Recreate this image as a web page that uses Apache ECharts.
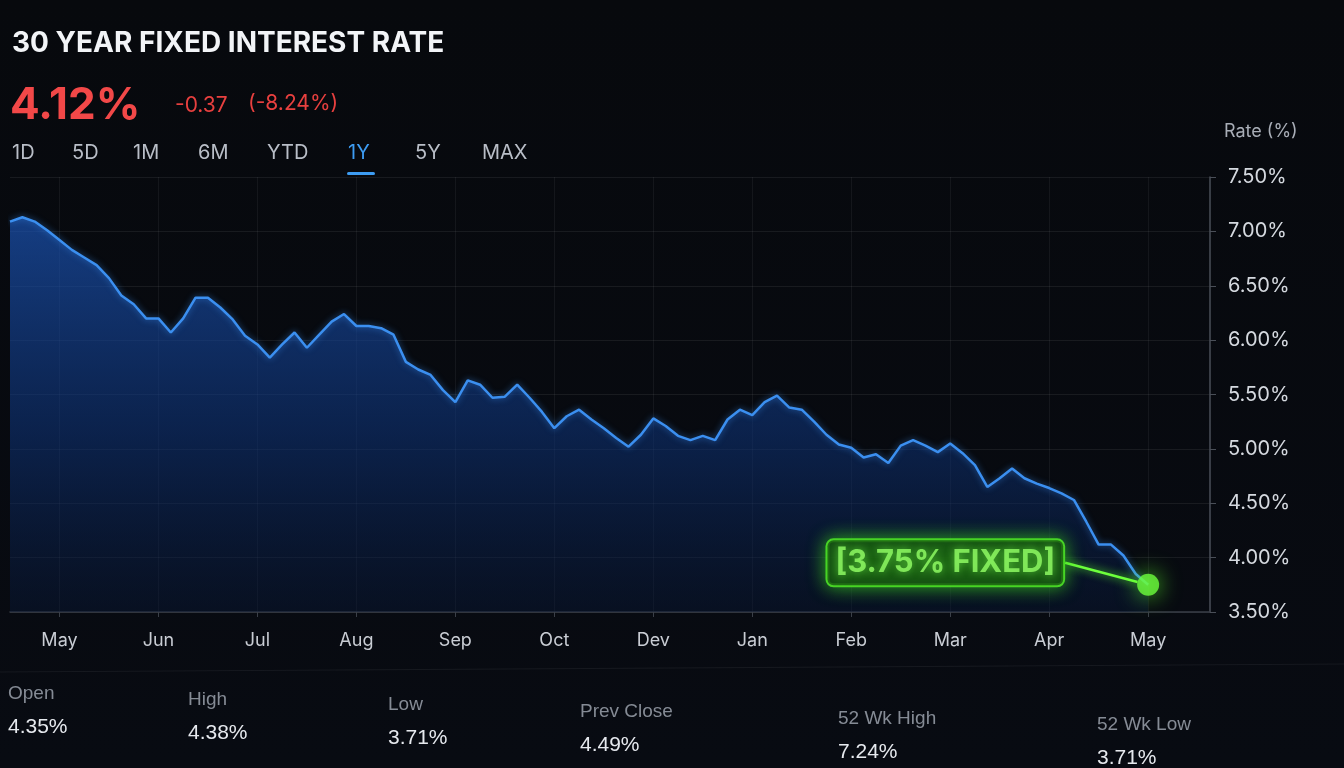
<!DOCTYPE html>
<html>
<head>
<meta charset="utf-8">
<title>30 Year Fixed Interest Rate</title>
<script src="https://cdn.jsdelivr.net/npm/echarts@6.0.0/dist/echarts.min.js"></script>
<style>
  html, body { margin: 0; padding: 0; background: #06080c; }
  #main { width: 1344px; height: 768px; }
</style>
</head>
<body>
<div id="main"></div>
<script>
// month labels along the bottom (8 points per month, first label at point 4)
const months = ["May", "Jun", "Jul", "Aug", "Sep", "Oct", "Dev", "Jan", "Feb", "Mar", "Apr", "May"];
const pointsPerMonth = 8;
const firstLabelIdx = 4;
const trailingSlots = 5; // empty room after the last reading

// rate readings
const rates = [
  7.09, 7.13, 7.09, 7.01, 6.92, 6.83, 6.76, 6.69, 6.57, 6.41,
  6.33, 6.20, 6.20, 6.07, 6.20, 6.39, 6.39, 6.30, 6.19, 6.04,
  5.96, 5.84, 5.96, 6.07, 5.93, 6.05, 6.17, 6.24, 6.13, 6.13,
  6.11, 6.05, 5.80, 5.73, 5.68, 5.54, 5.43, 5.63, 5.59, 5.47,
  5.48, 5.59, 5.47, 5.34, 5.19, 5.30, 5.36, 5.27, 5.19, 5.10,
  5.02, 5.13, 5.28, 5.21, 5.12, 5.08, 5.12, 5.08, 5.27, 5.36,
  5.31, 5.43, 5.49, 5.38, 5.36, 5.25, 5.13, 5.04, 5.01, 4.92,
  4.95, 4.87, 5.03, 5.08, 5.03, 4.97, 5.05, 4.96, 4.85, 4.65,
  4.73, 4.82, 4.73, 4.68, 4.64, 4.59, 4.53, 4.33, 4.12, 4.12,
  4.02, 3.85, 3.75
];

const yTicks = { min: 3.5, max: 7.5, step: 0.5 };
const ranges = ["1D", "5D", "1M", "6M", "YTD", "1Y", "5Y", "MAX"];
const activeRange = "1Y";
const statLabels = ["Open", "High", "Low", "Prev Close", "52 Wk High", "52 Wk Low"];
const statValues = ["4.35%", "4.38%", "3.71%", "4.49%", "7.24%", "3.71%"];
const quote = { last: "4.12%", change: "-0.37", pct: "(-8.24%)" };
const fixedLabel = "[3.75% FIXED]";

const slotCount = rates.length + trailingSlots;
const categories = [];
for (let i = 0; i < slotCount; i++) categories.push(String(i));
const isMonth = (i) => i >= firstLabelIdx && (i - firstLabelIdx) % pointsPerMonth === 0 &&
  (i - firstLabelIdx) / pointsPerMonth < months.length;
const lastIdx = rates.length - 1;

// header + footer text
const rangeX = [12, 72, 133, 198, 267, 348, 415, 482];
const statX = [8, 188, 388, 580, 838, 1097];
const statY = [684, 690, 695, 702, 709, 715];

const graphics = [
  { type: "text", left: 12, top: 30, style: { text: "30 YEAR FIXED INTEREST RATE", fill: "#f2f4f7", font: "bold 28px Inter, 'Noto Sans', sans-serif" } },
  { type: "text", left: 10, top: 84, style: { text: quote.last, fill: "#f24848", font: "bold 44px Inter, 'Noto Sans', sans-serif" } },
  { type: "text", left: 175, top: 95, style: { text: quote.change, fill: "#e8403f", font: "21px Inter, 'Noto Sans', sans-serif" } },
  { type: "text", left: 248, top: 93, style: { text: quote.pct, fill: "#e8403f", font: "21px Inter, 'Noto Sans', sans-serif" } },
  { type: "line", shape: { x1: 0, y1: 672, x2: 1344, y2: 664 }, style: { stroke: "rgba(255,255,255,0.06)", lineWidth: 1 } }
];
ranges.forEach((r, i) => {
  const on = r === activeRange;
  graphics.push({ type: "text", left: rangeX[i], top: 143, style: { text: r, fill: on ? "#3d9cf2" : "#b9bec7", font: "20px Inter, 'Noto Sans', sans-serif" } });
  if (on) {
    graphics.push({ type: "rect", shape: { x: rangeX[i] - 1, y: 172, width: 28, height: 3, r: 1.5 }, style: { fill: "#3d9cf2" } });
  }
});
statLabels.forEach((s, i) => {
  graphics.push({ type: "text", left: statX[i], top: statY[i], style: { text: s, fill: "#858b95", font: "19px 'Liberation Sans', Arial, sans-serif" } });
  graphics.push({ type: "text", left: statX[i], top: statY[i] + 33, style: { text: statValues[i], fill: "#e6e9ee", font: "21px 'Liberation Sans', Arial, sans-serif" } });
});

const chart = echarts.init(document.getElementById("main"));
chart.setOption({
  backgroundColor: {
    type: "linear", x: 0, y: 0, x2: 0, y2: 1,
    colorStops: [
      { offset: 0, color: "#07090d" },
      { offset: 1, color: "#080b12" }
    ]
  },
  animation: false,
  graphic: graphics,
  grid: { left: 10, right: 134, top: 177, bottom: 156 },
  xAxis: {
    type: "category",
    data: categories,
    boundaryGap: false,
    axisLine: { show: true, lineStyle: { color: "#3a3f48", width: 1.5 } },
    axisTick: { show: true, interval: (i) => isMonth(i), length: 5, lineStyle: { color: "#3a3f48" } },
    axisLabel: {
      interval: (i) => isMonth(i),
      formatter: (v, i) => isMonth(i) ? months[(i - firstLabelIdx) / pointsPerMonth] : "",
      color: "#c9cdd4",
      fontSize: 18,
      fontFamily: "Inter, 'Noto Sans', sans-serif",
      margin: 20
    },
    splitLine: { show: true, interval: (i) => isMonth(i), lineStyle: { color: "rgba(255,255,255,0.055)" } }
  },
  yAxis: {
    type: "value",
    position: "right",
    min: yTicks.min,
    max: yTicks.max,
    interval: yTicks.step,
    name: "Rate (%)",
    nameLocation: "end",
    nameGap: 36,
    nameTextStyle: { color: "#a9aeb7", fontSize: 18, fontFamily: "Inter, 'Noto Sans', sans-serif", align: "left", padding: [0, 0, 0, 14] },
    axisLine: { show: true, lineStyle: { color: "#4a4f58", width: 1.5 } },
    axisTick: { show: true, length: 6, lineStyle: { color: "#4a4f58" } },
    axisLabel: {
      formatter: (v) => v.toFixed(2) + "%",
      color: "#d5d9df",
      fontSize: 20,
      fontFamily: "Inter, 'Noto Sans', sans-serif",
      margin: 18
    },
    splitLine: { show: true, lineStyle: { color: "rgba(255,255,255,0.07)" } }
  },
  series: [
    {
      type: "line",
      data: rates,
      symbol: "none",
      smooth: false,
      lineStyle: { color: "#3b8ff0", width: 2.5, shadowColor: "rgba(59,143,240,0.6)", shadowBlur: 6 },
      areaStyle: {
        color: new echarts.graphic.LinearGradient(0, 0, 0, 1, [
          { offset: 0, color: "rgba(28,88,190,0.95)" },
          { offset: 0.55, color: "rgba(14,52,122,0.8)" },
          { offset: 1, color: "rgba(8,24,56,0.6)" }
        ])
      },
      z: 2
    },
    {
      type: "scatter",
      data: [[lastIdx, rates[lastIdx]]],
      symbolSize: 22,
      itemStyle: { color: "#6dff3c", shadowColor: "#5cff2a", shadowBlur: 22 },
      label: {
        show: true,
        position: "left",
        distance: 8,
        formatter: fixedLabel,
        color: "#94ff66",
        fontSize: 31,
        fontWeight: "bold",
        fontFamily: "Inter, 'Noto Sans', sans-serif",
        backgroundColor: "rgba(18,70,14,0.9)",
        borderColor: "#5cff2a",
        borderWidth: 2,
        borderRadius: 6,
        padding: [8, 8, 6, 8],
        shadowColor: "#3bd41c",
        shadowBlur: 18,
        textShadowColor: "rgba(120,255,80,0.8)",
        textShadowBlur: 8
      },
      labelLayout: { dx: -66, dy: -22 },
      labelLine: { show: true, lineStyle: { color: "#6dff3c", width: 2.5, shadowColor: "#5cff2a", shadowBlur: 8 } },
      z: 5
    }
  ]
});
</script>
</body>
</html>
